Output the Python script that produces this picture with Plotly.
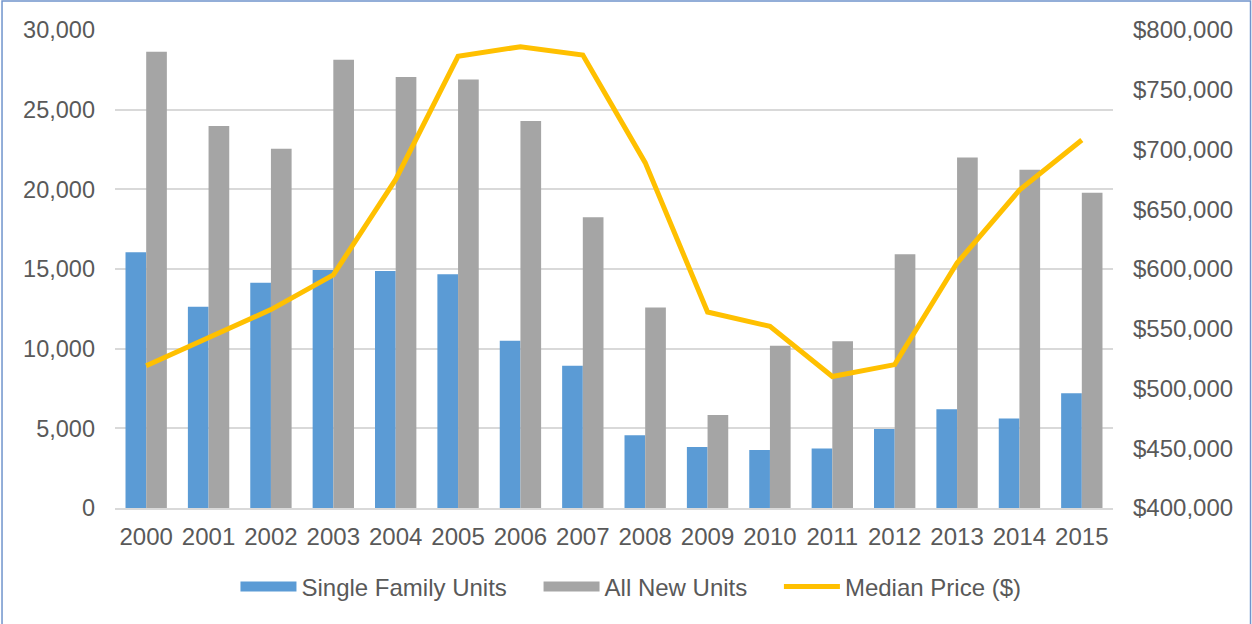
import plotly.graph_objects as go

years = [str(y) for y in range(2000, 2016)]
single_family = [16050, 12630, 14140, 14940, 14870, 14670, 10490, 8920,
                 4560, 3830, 3640, 3740, 4960, 6200, 5610, 7200]
all_new = [28630, 23970, 22550, 28140, 27050, 26890, 24290, 18250,
           12590, 5840, 10180, 10470, 15920, 22000, 21230, 19780]
median_price = [519000, 543000, 566000, 595000, 675000, 778000, 786000, 779000,
                689000, 564000, 552000, 510000, 520000, 605000, 666000, 708000]

text_color = '#595959'
grid_color = '#d9d9d9'
blue, gray, gold = '#5b9bd5', '#a5a5a5', '#ffc000'
pad = '\u00a0' * 4  # extra room between legend entries

fig = go.Figure()

# bars (legend drawn by proxy entries below so swatches are wide like Excel)
fig.add_trace(go.Bar(x=years, y=single_family, name='Single Family Units',
                     marker=dict(color=blue, line=dict(width=0)),
                     showlegend=False, legendgroup='sf'))
fig.add_trace(go.Bar(x=years, y=all_new, name='All New Units',
                     marker=dict(color=gray, line=dict(width=0)),
                     showlegend=False, legendgroup='all'))
fig.add_trace(go.Scatter(x=years, y=median_price, name='Median Price ($)',
                         yaxis='y2', mode='lines', showlegend=False, legendgroup='mp',
                         line=dict(color=gold, width=5)))

# legend entries
fig.add_trace(go.Scatter(x=[None], y=[None], mode='lines', name='Single Family Units' + pad,
                         legendgroup='sf', line=dict(color=blue, width=13)))
fig.add_trace(go.Scatter(x=[None], y=[None], mode='lines', name='All New Units' + pad,
                         legendgroup='all', line=dict(color=gray, width=13)))
fig.add_trace(go.Scatter(x=[None], y=[None], mode='lines', name='Median Price ($)',
                         legendgroup='mp', yaxis='y2', line=dict(color=gold, width=5)))

fig.update_layout(
    width=1252, height=624,
    margin=dict(l=115, r=139, t=30, b=116),
    paper_bgcolor='white', plot_bgcolor='white',
    font=dict(family='Liberation Sans, Arial', size=24, color=text_color),
    barmode='group', bargap=0.337, bargroupgap=0,
    showlegend=True,
    legend=dict(orientation='h', x=0.517, xanchor='center', y=-0.165, yanchor='middle',
                font=dict(size=24, color=text_color), itemwidth=56,
                bgcolor='rgba(0,0,0,0)', traceorder='normal'),
    xaxis=dict(type='category', showgrid=False, showline=True, linecolor=grid_color,
               linewidth=2, ticks='', ticklabelstandoff=6,
               tickfont=dict(size=24, color=text_color)),
    yaxis=dict(range=[0, 30000], dtick=5000, tickformat=',', showgrid=True,
               gridcolor=grid_color, gridwidth=1.5, zeroline=False,
               ticks='', ticklabelstandoff=19,
               tickfont=dict(size=23.5, color=text_color)),
    yaxis2=dict(range=[400000, 800000], dtick=50000, tickformat='$,.0f',
                overlaying='y', side='right', showgrid=False, zeroline=False,
                ticks='', ticklabelstandoff=19,
                tickfont=dict(size=24, color=text_color)),
    shapes=[dict(type='rect', xref='paper', yref='paper',
                 x0=-0.1132, x1=1.1378, y0=-0.257, y1=1.0608,
                 line=dict(color='#7094cc', width=1.5), fillcolor='rgba(0,0,0,0)',
                 layer='below')],
)

fig.write_html("out.html", config={'displayModeBar': False},
               post_script="document.body.style.margin='0';")
